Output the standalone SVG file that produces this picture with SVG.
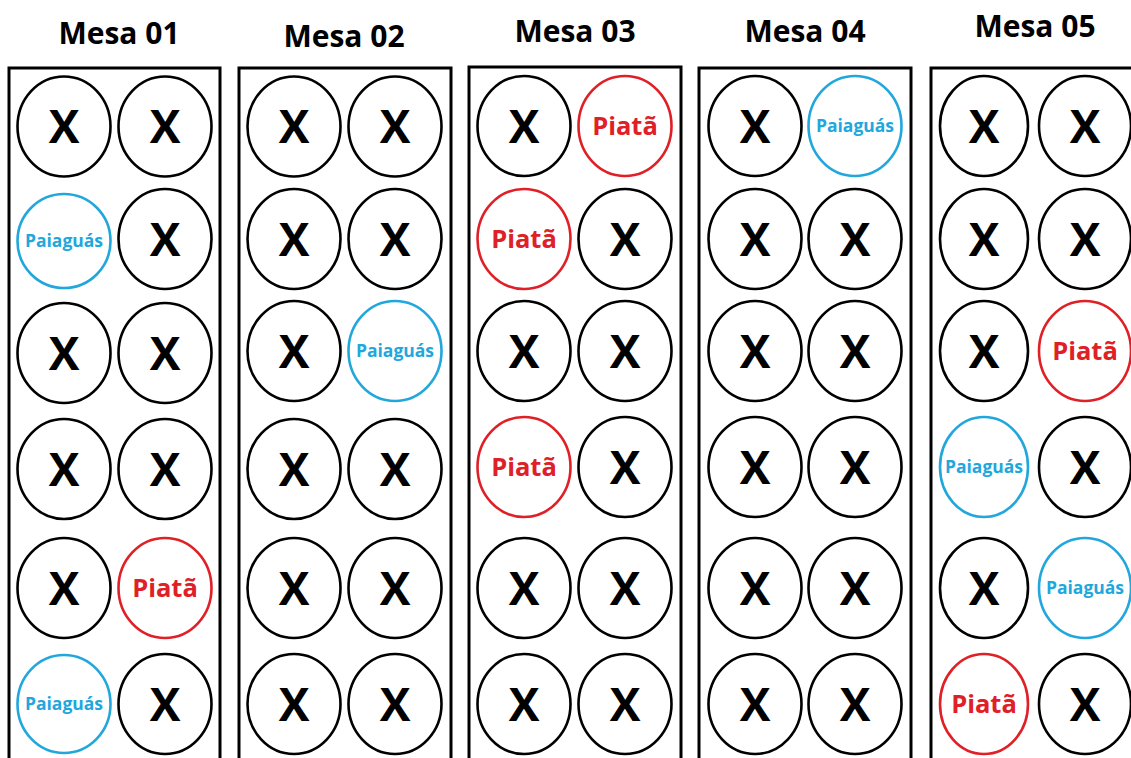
<svg xmlns="http://www.w3.org/2000/svg" width="1131" height="758" viewBox="0 0 1131 758">
<style>
.bg{fill:#ffffff}
.mesa{fill:none;stroke:#000;stroke-width:3}
.title{font-family:"Open Sans","Liberation Sans",sans-serif;font-weight:700;font-size:30px;fill:#000;text-anchor:middle}
.cx{fill:#fff;stroke:#000;stroke-width:2.6}
.cp{fill:#fff;stroke:#e02027;stroke-width:2.6}
.cg{fill:#fff;stroke:#22a7dd;stroke-width:2.6}
.tx{font-family:"Open Sans","Liberation Sans",sans-serif;font-weight:700;font-size:46px;fill:#000;text-anchor:middle}
.tp{font-family:"Open Sans","Liberation Sans",sans-serif;font-weight:700;font-size:25.5px;fill:#e02027;text-anchor:middle}
.tg{font-family:"Open Sans","Liberation Sans",sans-serif;font-weight:700;font-size:17.5px;fill:#22a7dd;text-anchor:middle}
</style>
<rect class="bg" x="0" y="0" width="1131" height="758"/>
<g id="connectors"></g>

<g id="mesa01">
<text class="title" x="119" y="44">Mesa 01</text>
<rect class="mesa" x="9" y="68" width="211" height="710"/>
<g id="m1r1a"><ellipse class="cx" cx="64" cy="126.5" rx="46.5" ry="50"/><text class="tx" x="64" y="143">X</text></g>
<g id="m1r1b"><ellipse class="cx" cx="165" cy="126.5" rx="46.5" ry="50"/><text class="tx" x="165" y="143">X</text></g>
<g id="m1r2a"><ellipse class="cg" cx="64" cy="241" rx="46.5" ry="47"/><text class="tg" x="64" y="247">Paiaguás</text></g>
<g id="m1r2b"><ellipse class="cx" cx="165" cy="239" rx="46.5" ry="50"/><text class="tx" x="165" y="255.5">X</text></g>
<g id="m1r3a"><ellipse class="cx" cx="64" cy="353" rx="46.5" ry="50"/><text class="tx" x="64" y="369.5">X</text></g>
<g id="m1r3b"><ellipse class="cx" cx="165" cy="353" rx="46.5" ry="50"/><text class="tx" x="165" y="369.5">X</text></g>
<g id="m1r4a"><ellipse class="cx" cx="64" cy="469" rx="46.5" ry="50"/><text class="tx" x="64" y="485.5">X</text></g>
<g id="m1r4b"><ellipse class="cx" cx="165" cy="469" rx="46.5" ry="50"/><text class="tx" x="165" y="485.5">X</text></g>
<g id="m1r5a"><ellipse class="cx" cx="64" cy="588" rx="46.5" ry="50"/><text class="tx" x="64" y="604.5">X</text></g>
<g id="m1r5b"><ellipse class="cp" cx="165" cy="588" rx="46.5" ry="50"/><text class="tp" x="165" y="596.5">Piatã</text></g>
<g id="m1r6a"><ellipse class="cg" cx="64" cy="704" rx="46.5" ry="49"/><text class="tg" x="64" y="710">Paiaguás</text></g>
<g id="m1r6b"><ellipse class="cx" cx="165" cy="704" rx="46.5" ry="50"/><text class="tx" x="165" y="720.5">X</text></g>
</g>

<g id="mesa02">
<text class="title" x="344" y="47">Mesa 02</text>
<rect class="mesa" x="239" y="68" width="212" height="710"/>
<g id="m2r1a"><ellipse class="cx" cx="294" cy="126.5" rx="46.5" ry="50"/><text class="tx" x="294" y="143">X</text></g>
<g id="m2r1b"><ellipse class="cx" cx="395" cy="126.5" rx="46.5" ry="50"/><text class="tx" x="395" y="143">X</text></g>
<g id="m2r2a"><ellipse class="cx" cx="294" cy="239" rx="46.5" ry="50"/><text class="tx" x="294" y="255.5">X</text></g>
<g id="m2r2b"><ellipse class="cx" cx="395" cy="239" rx="46.5" ry="50"/><text class="tx" x="395" y="255.5">X</text></g>
<g id="m2r3a"><ellipse class="cx" cx="294" cy="351" rx="46.5" ry="50"/><text class="tx" x="294" y="367.5">X</text></g>
<g id="m2r3b"><ellipse class="cg" cx="395" cy="351" rx="46.5" ry="50"/><text class="tg" x="395" y="357">Paiaguás</text></g>
<g id="m2r4a"><ellipse class="cx" cx="294" cy="469" rx="46.5" ry="50"/><text class="tx" x="294" y="485.5">X</text></g>
<g id="m2r4b"><ellipse class="cx" cx="395" cy="469" rx="46.5" ry="50"/><text class="tx" x="395" y="485.5">X</text></g>
<g id="m2r5a"><ellipse class="cx" cx="294" cy="588" rx="46.5" ry="50"/><text class="tx" x="294" y="604.5">X</text></g>
<g id="m2r5b"><ellipse class="cx" cx="395" cy="588" rx="46.5" ry="50"/><text class="tx" x="395" y="604.5">X</text></g>
<g id="m2r6a"><ellipse class="cx" cx="294" cy="704" rx="46.5" ry="50"/><text class="tx" x="294" y="720.5">X</text></g>
<g id="m2r6b"><ellipse class="cx" cx="395" cy="704" rx="46.5" ry="50"/><text class="tx" x="395" y="720.5">X</text></g>
</g>

<g id="mesa03">
<text class="title" x="575" y="42">Mesa 03</text>
<rect class="mesa" x="469" y="67" width="212" height="711"/>
<g id="m3r1a"><ellipse class="cx" cx="524" cy="126" rx="46.5" ry="50"/><text class="tx" x="524" y="142.5">X</text></g>
<g id="m3r1b"><ellipse class="cp" cx="625" cy="126" rx="46.5" ry="50"/><text class="tp" x="625" y="134.5">Piatã</text></g>
<g id="m3r2a"><ellipse class="cp" cx="524" cy="239" rx="46.5" ry="50"/><text class="tp" x="524" y="247.5">Piatã</text></g>
<g id="m3r2b"><ellipse class="cx" cx="625" cy="239" rx="46.5" ry="50"/><text class="tx" x="625" y="255.5">X</text></g>
<g id="m3r3a"><ellipse class="cx" cx="524" cy="351" rx="46.5" ry="50"/><text class="tx" x="524" y="367.5">X</text></g>
<g id="m3r3b"><ellipse class="cx" cx="625" cy="351" rx="46.5" ry="50"/><text class="tx" x="625" y="367.5">X</text></g>
<g id="m3r4a"><ellipse class="cp" cx="524" cy="467" rx="46.5" ry="50"/><text class="tp" x="524" y="475.5">Piatã</text></g>
<g id="m3r4b"><ellipse class="cx" cx="625" cy="467" rx="46.5" ry="50"/><text class="tx" x="625" y="483.5">X</text></g>
<g id="m3r5a"><ellipse class="cx" cx="524" cy="588" rx="46.5" ry="50"/><text class="tx" x="524" y="604.5">X</text></g>
<g id="m3r5b"><ellipse class="cx" cx="625" cy="588" rx="46.5" ry="50"/><text class="tx" x="625" y="604.5">X</text></g>
<g id="m3r6a"><ellipse class="cx" cx="524" cy="704" rx="46.5" ry="50"/><text class="tx" x="524" y="720.5">X</text></g>
<g id="m3r6b"><ellipse class="cx" cx="625" cy="704" rx="46.5" ry="50"/><text class="tx" x="625" y="720.5">X</text></g>
</g>

<g id="mesa04">
<text class="title" x="805" y="42">Mesa 04</text>
<rect class="mesa" x="699" y="68" width="212" height="710"/>
<g id="m4r1a"><ellipse class="cx" cx="755" cy="126" rx="46.5" ry="50"/><text class="tx" x="755" y="142.5">X</text></g>
<g id="m4r1b"><ellipse class="cg" cx="855" cy="126" rx="46.5" ry="50"/><text class="tg" x="855" y="132">Paiaguás</text></g>
<g id="m4r2a"><ellipse class="cx" cx="755" cy="239" rx="46.5" ry="50"/><text class="tx" x="755" y="255.5">X</text></g>
<g id="m4r2b"><ellipse class="cx" cx="855" cy="239" rx="46.5" ry="50"/><text class="tx" x="855" y="255.5">X</text></g>
<g id="m4r3a"><ellipse class="cx" cx="755" cy="351" rx="46.5" ry="50"/><text class="tx" x="755" y="367.5">X</text></g>
<g id="m4r3b"><ellipse class="cx" cx="855" cy="351" rx="46.5" ry="50"/><text class="tx" x="855" y="367.5">X</text></g>
<g id="m4r4a"><ellipse class="cx" cx="755" cy="467" rx="46.5" ry="50"/><text class="tx" x="755" y="483.5">X</text></g>
<g id="m4r4b"><ellipse class="cx" cx="855" cy="467" rx="46.5" ry="50"/><text class="tx" x="855" y="483.5">X</text></g>
<g id="m4r5a"><ellipse class="cx" cx="755" cy="588" rx="46.5" ry="50"/><text class="tx" x="755" y="604.5">X</text></g>
<g id="m4r5b"><ellipse class="cx" cx="855" cy="588" rx="46.5" ry="50"/><text class="tx" x="855" y="604.5">X</text></g>
<g id="m4r6a"><ellipse class="cx" cx="755" cy="704" rx="46.5" ry="50"/><text class="tx" x="755" y="720.5">X</text></g>
<g id="m4r6b"><ellipse class="cx" cx="855" cy="704" rx="46.5" ry="50"/><text class="tx" x="855" y="720.5">X</text></g>
</g>

<g id="mesa05">
<text class="title" x="1035" y="37">Mesa 05</text>
<rect class="mesa" x="931" y="68" width="212" height="710"/>
<g id="m5r1a"><ellipse class="cx" cx="984" cy="126" rx="44" ry="50"/><text class="tx" x="984" y="142.5">X</text></g>
<g id="m5r1b"><ellipse class="cx" cx="1085" cy="126" rx="46" ry="50"/><text class="tx" x="1085" y="142.5">X</text></g>
<g id="m5r2a"><ellipse class="cx" cx="984" cy="239" rx="44" ry="50"/><text class="tx" x="984" y="255.5">X</text></g>
<g id="m5r2b"><ellipse class="cx" cx="1085" cy="239" rx="46" ry="50"/><text class="tx" x="1085" y="255.5">X</text></g>
<g id="m5r3a"><ellipse class="cx" cx="984" cy="351" rx="44" ry="50"/><text class="tx" x="984" y="367.5">X</text></g>
<g id="m5r3b"><ellipse class="cp" cx="1085" cy="351" rx="46" ry="50"/><text class="tp" x="1085" y="359.5">Piatã</text></g>
<g id="m5r4a"><ellipse class="cg" cx="984" cy="467" rx="44" ry="50"/><text class="tg" x="984" y="473">Paiaguás</text></g>
<g id="m5r4b"><ellipse class="cx" cx="1085" cy="467" rx="46" ry="50"/><text class="tx" x="1085" y="483.5">X</text></g>
<g id="m5r5a"><ellipse class="cx" cx="984" cy="588" rx="44" ry="50"/><text class="tx" x="984" y="604.5">X</text></g>
<g id="m5r5b"><ellipse class="cg" cx="1085" cy="588" rx="46" ry="50"/><text class="tg" x="1085" y="594">Paiaguás</text></g>
<g id="m5r6a"><ellipse class="cp" cx="984" cy="704" rx="44" ry="50"/><text class="tp" x="984" y="712.5">Piatã</text></g>
<g id="m5r6b"><ellipse class="cx" cx="1085" cy="704" rx="46" ry="50"/><text class="tx" x="1085" y="720.5">X</text></g>
</g>
</svg>
